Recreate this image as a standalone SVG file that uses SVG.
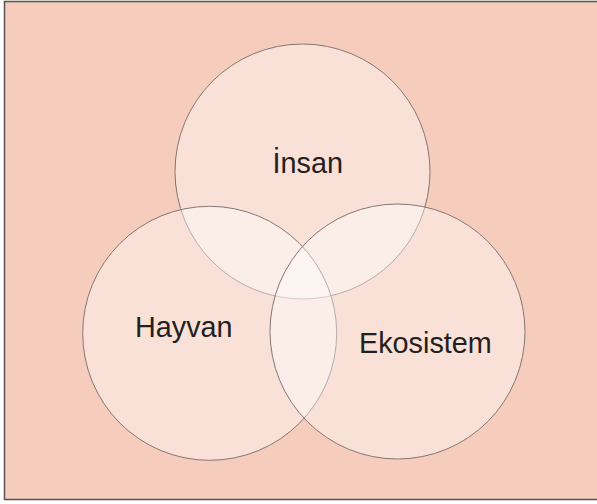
<svg xmlns="http://www.w3.org/2000/svg" width="597" height="504" viewBox="0 0 597 504">
<style>
.c{fill:#ffffff;fill-opacity:0.4;stroke:#857674;stroke-width:1}
.t{font-family:"Liberation Sans",Arial,sans-serif;font-size:28.8px;fill:#231f20}
</style>
<rect x="4.5" y="1.5" width="600" height="498" fill="#f6cdbd" stroke="#555555" stroke-width="1.5"/>
<g id="insan">
<circle class="c" cx="302.5" cy="171.5" r="127.5"/>
<text class="t" x="272.5" y="173">İnsan</text>
</g>
<g id="hayvan">
<circle class="c" cx="209.7" cy="333.3" r="127"/>
<text class="t" x="135" y="337">Hayvan</text>
</g>
<g id="ekosistem">
<circle class="c" cx="397.5" cy="331.5" r="127.5"/>
<text class="t" x="359" y="353">Ekosistem</text>
</g>
<g id="connectors"/>
</svg>
